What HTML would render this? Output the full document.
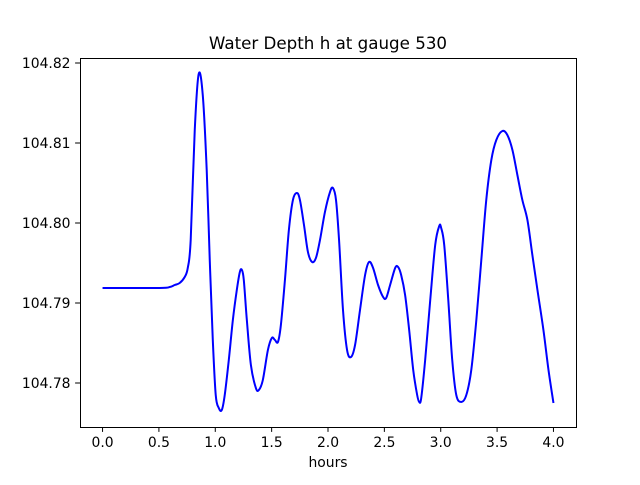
<!DOCTYPE html>
<html><head><meta charset="utf-8"><style>
body{margin:0;background:#fff}
svg text{font-family:"DejaVu Sans","Liberation Sans",sans-serif;fill:#000}
</style></head><body>
<svg id="chart" width="640" height="480" viewBox="0 0 640 480" xmlns="http://www.w3.org/2000/svg">
<rect width="640" height="480" fill="#fff"/>
<text x="328" y="49" font-size="16.7" text-anchor="middle">Water Depth h at gauge 530</text>
<g id="plot"></g>
<rect x="80.5" y="58.5" width="496" height="369" fill="none" stroke="#000" stroke-width="1"/>
<text x="328" y="467" font-size="13.9" text-anchor="middle">hours</text>
</svg>
<script>
const times=[0,0.507,0.596,0.640,0.684,0.729,0.756,0.782,0.818,0.853,0.889,0.924,0.951,0.978,1.004,1.031,1.058,1.084,1.120,1.156,1.191,1.218,1.236,1.253,1.280,1.316,1.360,1.387,1.422,1.467,1.502,1.529,1.556,1.582,1.618,1.653,1.689,1.724,1.751,1.787,1.822,1.858,1.893,1.929,1.973,2.018,2.044,2.071,2.098,2.133,2.169,2.204,2.240,2.284,2.329,2.364,2.400,2.444,2.489,2.516,2.551,2.596,2.622,2.649,2.684,2.720,2.756,2.791,2.809,2.827,2.862,2.907,2.951,2.987,3.004,3.031,3.067,3.102,3.138,3.182,3.227,3.271,3.316,3.360,3.404,3.449,3.493,3.547,3.591,3.636,3.680,3.724,3.769,3.813,3.858,3.911,3.956,4.0];
const depths=[104.79188,104.79188,104.792,104.79225,104.7925,104.79325,104.79438,104.79788,104.81163,104.81863,104.816,104.80663,104.79538,104.78538,104.7785,104.77688,104.77663,104.7785,104.78288,104.78788,104.79163,104.79388,104.79413,104.79288,104.78788,104.78225,104.77938,104.77913,104.78038,104.78413,104.78563,104.78538,104.78513,104.78725,104.79288,104.79913,104.80288,104.80375,104.80288,104.79975,104.79638,104.79513,104.79563,104.79788,104.80138,104.80388,104.80438,104.80288,104.79788,104.78913,104.78413,104.78325,104.78475,104.78913,104.7935,104.79513,104.79438,104.79225,104.79075,104.79063,104.79225,104.79438,104.7945,104.7935,104.791,104.78663,104.78163,104.7785,104.77763,104.77813,104.78288,104.79038,104.79725,104.79963,104.79938,104.79725,104.79038,104.78288,104.7785,104.77763,104.7785,104.78163,104.78788,104.79538,104.80288,104.80788,104.81038,104.8115,104.811,104.80913,104.806,104.80288,104.80038,104.796,104.79163,104.78663,104.78163,104.7775];
const xTicks=[0,0.5,1,1.5,2,2.5,3,3.5,4];
const xTickLabels=["0.0","0.5","1.0","1.5","2.0","2.5","3.0","3.5","4.0"];
const yTicks=[104.78,104.79,104.80,104.81,104.82];
const yTickLabels=["104.78","104.79","104.80","104.81","104.82"];

const L=80,R=576,T=58,B=427;
const x0=-0.2,x1=4.2,y0=104.7745,y1=104.820625;
const sx=v=>L+(v-x0)/(x1-x0)*(R-L);
const sy=v=>B-(v-y0)/(y1-y0)*(B-T);
const NS="http://www.w3.org/2000/svg";
const svg=document.getElementById('chart');
const plot=document.getElementById('plot');
function mk(tag,attrs,parent){const e=document.createElementNS(NS,tag);for(const k in attrs)e.setAttribute(k,attrs[k]);(parent||svg).appendChild(e);return e;}
xTicks.forEach((t,i)=>{
  const X=sx(t);
  const tk=mk('line',{x1:X,x2:X,y1:B,y2:B+4.9,stroke:'#000'});
  
  
  const tx=mk('text',{x:X,y:B+20,'font-size':13.9,'text-anchor':'middle'});
  tx.textContent=xTickLabels[i];
  
  
});
yTicks.forEach((t,i)=>{
  const Y=sy(t);
  const tk=mk('line',{x1:L-4.9,x2:L,y1:Y,y2:Y,stroke:'#000'});
  
  
  const tx=mk('text',{x:L-9.5,y:Y+5,'font-size':13.9,'text-anchor':'end'});
  tx.textContent=yTickLabels[i];
  
  
});
const pts=times.map((t,i)=>[sx(t),sy(depths[i])]);
let d='M'+pts[0][0]+','+pts[0][1];
for(let i=0;i<pts.length-1;i++){
  const p0=pts[Math.max(0,i-1)],p1=pts[i],p2=pts[i+1],p3=pts[Math.min(pts.length-1,i+2)];
  const c1x=p1[0]+(p2[0]-p0[0])/6,c1y=p1[1]+(p2[1]-p0[1])/6;
  const c2x=p2[0]-(p3[0]-p1[0])/6,c2y=p2[1]-(p3[1]-p1[1])/6;
  d+=' C'+c1x+','+c1y+' '+c2x+','+c2y+' '+p2[0]+','+p2[1];
}
const line=mk('path',{d:d,fill:'none',stroke:'#0000ff','stroke-width':2,'stroke-linejoin':'round'},plot);


</script>
</body></html>
